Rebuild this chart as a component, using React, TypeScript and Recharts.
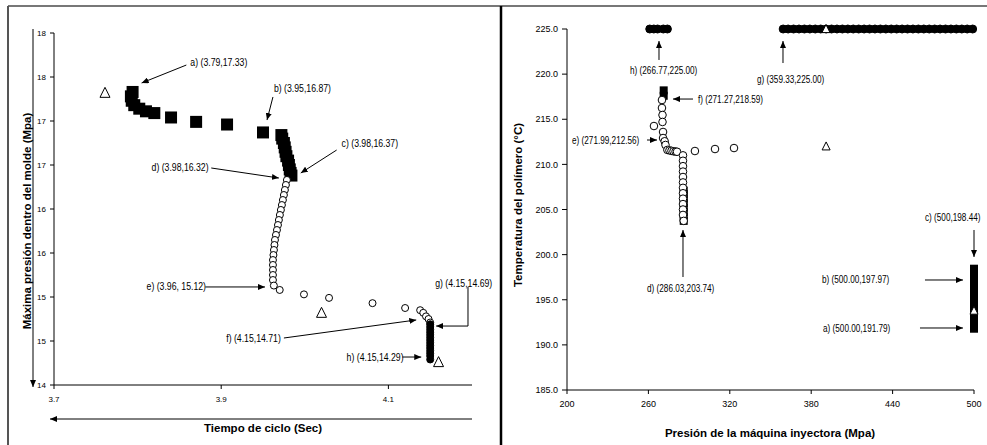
import { ScatterChart, Scatter, XAxis, YAxis, ReferenceLine, ReferenceDot } from "recharts"

type P = [number, number]

// left panel: cycle time (s) vs max mould pressure (MPa)
const L_SQUARES: P[] = [
  [3.794, 17.33], [3.792, 17.28], [3.793, 17.23], [3.796, 17.18], [3.802, 17.14], [3.81, 17.11],
  [3.82, 17.09], [3.84, 17.04], [3.87, 16.99], [3.907, 16.96], [3.95, 16.87],
  [3.972, 16.84], [3.973, 16.8], [3.975, 16.75], [3.976, 16.7], [3.977, 16.65], [3.978, 16.6],
  [3.98, 16.55], [3.981, 16.5], [3.982, 16.45], [3.983, 16.41], [3.984, 16.38],
]
const L_CIRCLES: P[] = [
  [3.9786, 16.33], [3.9774, 16.273], [3.9762, 16.216], [3.975, 16.159], [3.9738, 16.102],
  [3.9726, 16.045], [3.9714, 15.989], [3.9702, 15.932], [3.969, 15.875], [3.9679, 15.818],
  [3.9667, 15.761], [3.9655, 15.705], [3.9643, 15.648], [3.9637, 15.591], [3.9631, 15.534],
  [3.9625, 15.477], [3.9619, 15.42], [3.9619, 15.364], [3.9619, 15.307], [3.9619, 15.25],
  [3.9619, 15.193], [3.963, 15.13], [3.97, 15.08], [3.999, 15.03], [4.029, 14.99],
  [4.081, 14.93], [4.12, 14.875], [4.138, 14.85], [4.1417, 14.82], [4.145, 14.78],
  [4.148, 14.75], [4.15, 14.71],
]
const L_FILLED: P[] = [
  [4.15, 14.69], [4.15, 14.66], [4.15, 14.63], [4.15, 14.6], [4.15, 14.57], [4.15, 14.54],
  [4.15, 14.51], [4.15, 14.48], [4.15, 14.45], [4.15, 14.42], [4.15, 14.39], [4.15, 14.36],
  [4.15, 14.33], [4.15, 14.29],
]
const L_TRIANGLES: P[] = [[3.761, 17.32], [4.02, 14.82], [4.16, 14.26]]
const L_X_TICKS = [3.7, 3.9, 4.1]
const L_Y_TICKS = [14, 14.5, 15, 15.5, 16, 16.5, 17, 17.5, 18]

// right panel: injection pressure (MPa) vs polymer temperature (°C)
const R_SQUARES: P[] = [
  [500, 191.79], [500, 192.1], [500, 192.4], [500, 192.7], [500, 193.0], [500, 193.3], [500, 193.6],
  [500, 193.9], [500, 194.2], [500, 194.5], [500, 194.8], [500, 195.1], [500, 195.4], [500, 195.7],
  [500, 196.0], [500, 196.3], [500, 196.6], [500, 196.9], [500, 197.2], [500, 197.5], [500, 197.97],
  [500, 198.2], [500, 198.44],
  [286.03, 203.74], [286.03, 204.2], [286.03, 204.7], [286.03, 205.2], [286.03, 205.7],
  [286.03, 206.2], [286.03, 206.7], [286.03, 207.1],
  [271.27, 218.2], [271.27, 217.6],
]
const R_CIRCLES: P[] = [
  [270.0, 217.13], [270.0, 216.25], [270.4, 215.47], [270.4, 214.7], [264.1, 214.25],
  [270.8, 213.59], [270.8, 212.92], [271.99, 212.56], [272.6, 212.15], [274.0, 211.6],
  [275.5, 211.55], [277.0, 211.5], [278.5, 211.45], [280.0, 211.42], [281.1, 211.4],
  [285.5, 211.0], [285.5, 210.4], [285.5, 209.8], [285.5, 209.2], [285.5, 208.6], [285.5, 208.0],
  [285.5, 207.4], [285.5, 206.8], [285.5, 206.2], [285.5, 205.6], [285.5, 205.0], [285.5, 204.4],
  [286.03, 203.74],
  [294.3, 211.48], [309.1, 211.7], [323.1, 211.81],
]
const R_FILLED: P[] = [
  [261, 225], [264, 225], [266.77, 225], [271, 225], [274, 225],
  [359.33, 225], [363, 225], [367, 225], [371, 225], [375, 225], [379, 225], [383, 225], [387, 225],
  [391, 225], [395, 225], [399, 225], [403, 225], [407, 225], [411, 225], [415, 225], [419, 225],
  [423, 225], [427, 225], [431, 225], [435, 225], [439, 225], [443, 225], [447, 225], [451, 225],
  [455, 225], [459, 225], [463, 225], [467, 225], [471, 225], [475, 225], [479, 225],
  [483, 225], [487, 225], [491, 225], [495, 225], [499, 225],
]
const R_TRIANGLES: P[] = [[390.9, 225], [391, 212.0], [500, 193.8]]
const R_X_TICKS = [200, 260, 320, 380, 440, 500]
const R_Y_TICKS = [185, 190, 195, 200, 205, 210, 215, 220, 225]

type Note = { text: string; at: P; arrows: [P, P, boolean][] }

const L_NOTES: Note[] = [
  { text: "a) (3.79,17.33)", at: [3.8631, 17.67], arrows: [[[3.8583, 17.636], [3.8048, 17.432], true]] },
  { text: "b) (3.95,16.87)", at: [3.9631, 17.375], arrows: [[[3.9619, 17.273], [3.9548, 17.011], true]] },
  { text: "c) (3.98,16.37)", at: [4.044, 16.75], arrows: [[[4.0381, 16.67], [3.9952, 16.409], true]] },
  { text: "d) (3.98,16.32)", at: [3.8167, 16.477], arrows: [[[3.8881, 16.466], [3.969, 16.352], true]] },
  { text: "e) (3.96, 15.12)", at: [3.8107, 15.125], arrows: [[[3.881, 15.114], [3.9524, 15.114], true]] },
  { text: "f) (4.15,14.71)", at: [3.906, 14.534], arrows: [[[3.975, 14.534], [4.1333, 14.739], true]] },
  {
    text: "g) (4.15,14.69)", at: [4.156, 15.159],
    arrows: [[[4.1952, 15.114], [4.1952, 14.67], false], [[4.1952, 14.67], [4.1571, 14.67], true]],
  },
  { text: "h) (4.15,14.29)", at: [4.05, 14.318], arrows: [[[4.1167, 14.318], [4.1393, 14.318], true]] },
]
const R_NOTES: Note[] = [
  { text: "h) (266.77,225.00)", at: [246.44, 220.35], arrows: [[[267.81, 221.57], [267.81, 223.67], true]] },
  { text: "f) (271.27,218.59)", at: [296.56, 217.24], arrows: [[[292.87, 217.24], [278.13, 217.24], true]] },
  { text: "e) (271.99,212.56)", at: [203.69, 212.7], arrows: [[[258.97, 212.7], [266.34, 212.7], true]] },
  { text: "g) (359.33,225.00)", at: [340.05, 219.35], arrows: [[[359.21, 221.23], [359.21, 223.67], true]] },
  { text: "d) (286.03,203.74)", at: [258.97, 196.3], arrows: [[[285.5, 197.52], [285.5, 202.73], true]] },
  { text: "c) (500,198.44)", at: [463.87, 204.06], arrows: [[[500, 202.73], [500, 199.74], true]] },
  { text: "b) (500.00,197.97)", at: [387.96, 197.19], arrows: [[[463.87, 197.19], [491.88, 197.19], true]] },
  { text: "a) (500.00,191.79)", at: [388.7, 191.87], arrows: [[[460.19, 191.87], [491.88, 191.87], true]] },
]

const NARROW = "'Liberation Sans Narrow', 'Arial Narrow', 'Liberation Sans', Arial, sans-serif"
const SANS = "'Liberation Sans', Arial, sans-serif"

const pts = (arr: P[]) => arr.map(([x, y]) => ({ x, y }))

const square = (s: number) => (p: any) =>
  <rect x={p.cx - s / 2} y={p.cy - s / 2} width={s} height={s} fill="#000" />
const circle = (r: number, fill: string) => (p: any) =>
  <circle cx={p.cx} cy={p.cy} r={r} fill={fill} stroke="#000" strokeWidth={1} />
const triangle = (s: number) => (p: any) =>
  <path d={`M${p.cx},${p.cy - s * 0.55} L${p.cx + s / 2},${p.cy + s * 0.45} L${p.cx - s / 2},${p.cy + s * 0.45} Z`}
    fill="#fff" stroke="#000" strokeWidth={1} />

const arrowLine = (head: boolean) => (p: any) =>
  <line x1={p.x1} y1={p.y1} x2={p.x2} y2={p.y2} stroke="#000" strokeWidth={1}
    markerEnd={head ? "url(#ah)" : undefined} />

// condensed look of the original labels: squeeze the text horizontally
function renderNotes(notes: Note[], size: number, squeeze: number) {
  return notes.flatMap((n, i) => [
    <ReferenceDot key={`t${i}`} x={n.at[0]} y={n.at[1]} ifOverflow="visible"
      shape={(p: any) =>
        <text transform={`translate(${p.cx},${p.cy}) scale(${squeeze},1)`} dy="0.35em"
          fontSize={size} fontFamily={NARROW} fill="#000">{n.text}</text>} />,
    ...n.arrows.map(([a, b, head], j) =>
      <ReferenceLine key={`a${i}-${j}`} ifOverflow="visible"
        segment={[{ x: a[0], y: a[1] }, { x: b[0], y: b[1] }]} shape={arrowLine(head)} />),
  ])
}

const axisLine = { stroke: "#000", strokeWidth: 1 }

export default function App() {
  return <div style={{ position: "absolute", left: 0, top: 0, width: 987, height: 445, background: "#fff", overflow: "hidden" }}>
    <svg width={0} height={0} style={{ position: "absolute" }}>
      <defs>
        <marker id="ah" markerWidth={7} markerHeight={6} refX={7} refY={3} orient="auto" markerUnits="userSpaceOnUse">
          <path d="M0,0 L7,3 L0,6 Z" fill="#000" />
        </marker>
      </defs>
    </svg>

    <div style={{ position: "absolute", left: 0, top: 0 }}>
      <ScatterChart width={500} height={445} margin={{ top: 33, right: 28, bottom: 40, left: 24 }}>
        <XAxis type="number" dataKey="x" domain={[3.7, 4.2]} ticks={L_X_TICKS} height={20}
          tickSize={4} tickMargin={7} axisLine={axisLine} tickLine={axisLine}
          tick={{ fontSize: 8, fontFamily: NARROW, fill: "#000" }} />
        <YAxis type="number" dataKey="y" domain={[14, 18]} ticks={L_Y_TICKS} width={30}
          tickSize={4} tickMargin={4} axisLine={axisLine} tickLine={axisLine}
          tickFormatter={(v: number) => String(Math.round(v))}
          tick={{ fontSize: 8, fontFamily: NARROW, fill: "#000" }} />
        <Scatter data={pts(L_SQUARES)} shape={square(12)} isAnimationActive={false} />
        <Scatter data={pts(L_CIRCLES)} shape={circle(3.5, "#fff")} isAnimationActive={false} />
        <Scatter data={pts(L_FILLED)} shape={circle(3.5, "#000")} isAnimationActive={false} />
        <Scatter data={pts(L_TRIANGLES)} shape={triangle(10)} isAnimationActive={false} />
        {renderNotes(L_NOTES, 10, 0.87)}
      </ScatterChart>
    </div>

    <div style={{ position: "absolute", left: 501, top: 0 }}>
      <ScatterChart width={486} height={445} margin={{ top: 29, right: 13, bottom: 35, left: 26 }}>
        <XAxis type="number" dataKey="x" domain={[200, 500]} ticks={R_X_TICKS} height={20}
          tickSize={4} tickMargin={7} axisLine={axisLine} tickLine={axisLine}
          tick={{ fontSize: 9, fontFamily: SANS, fill: "#000" }} />
        <YAxis type="number" dataKey="y" domain={[185, 225]} ticks={R_Y_TICKS} width={40}
          tickSize={5} tickMargin={4} axisLine={axisLine} tickLine={axisLine}
          tickFormatter={(v: number) => v.toFixed(1)}
          tick={{ fontSize: 9, fontFamily: SANS, fill: "#000" }} />
        <Scatter data={pts(R_SQUARES)} shape={square(8)} isAnimationActive={false} />
        <Scatter data={pts(R_CIRCLES)} shape={circle(3.8, "#fff")} isAnimationActive={false} />
        <Scatter data={pts(R_FILLED)} shape={circle(4, "#000")} isAnimationActive={false} />
        <Scatter data={pts(R_TRIANGLES)} shape={triangle(8)} isAnimationActive={false} />
        {renderNotes(R_NOTES, 10, 0.82)}
      </ScatterChart>
    </div>

    <svg width={987} height={445} style={{ position: "absolute", left: 0, top: 0, pointerEvents: "none" }}>
      <line x1={8} y1={6} x2={987} y2={6} stroke="#777" strokeWidth={2} />
      <line x1={8} y1={6} x2={8} y2={445} stroke="#555" strokeWidth={2} />
      <line x1={501} y1={6} x2={501} y2={445} stroke="#000" strokeWidth={2.5} />

      <line x1={33} y1={29} x2={33} y2={387} stroke="#000" strokeWidth={1} markerEnd="url(#ah)" />
      <line x1={472} y1={419} x2={50} y2={419} stroke="#000" strokeWidth={1} markerEnd="url(#ah)" />

      <text transform="translate(27,221) rotate(-90)" textAnchor="middle" dominantBaseline="central"
        fontSize={11.5} fontWeight="bold" fontFamily={SANS}>Máxima presión dentro del molde (Mpa)</text>
      <text x={263} y={432} textAnchor="middle" fontSize={11.5} fontWeight="bold" fontFamily={SANS}>Tiempo de ciclo (Sec)</text>
      <text transform="translate(518,205) rotate(-90)" textAnchor="middle" dominantBaseline="central"
        fontSize={11.5} fontWeight="bold" fontFamily={SANS}>Temperatura del polímero (°C)</text>
      <text x={770} y={437} textAnchor="middle" fontSize={11.5} fontWeight="bold" fontFamily={SANS}>Presión de la máquina inyectora (Mpa)</text>
    </svg>
  </div>
}
